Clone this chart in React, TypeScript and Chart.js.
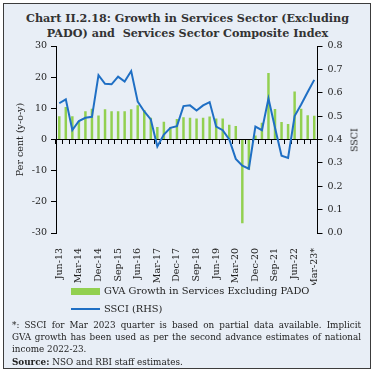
import React, { useEffect, useRef } from "react";
import { Chart, registerables } from "chart.js";

Chart.register(...registerables);

const categories = [
  "Jun-13", "Sep-13", "Dec-13", "Mar-14", "Jun-14", "Sep-14", "Dec-14", "Mar-15",
  "Jun-15", "Sep-15", "Dec-15", "Mar-16", "Jun-16", "Sep-16", "Dec-16", "Mar-17",
  "Jun-17", "Sep-17", "Dec-17", "Mar-18", "Jun-18", "Sep-18", "Dec-18", "Mar-19",
  "Jun-19", "Sep-19", "Dec-19", "Mar-20", "Jun-20", "Sep-20", "Dec-20", "Mar-21",
  "Jun-21", "Sep-21", "Dec-21", "Mar-22", "Jun-22", "Sep-22", "Dec-22", "Mar-23*",
];

const gvaGrowth = [
  7.5, 10.4, 7.5, 5.9, 9.1, 9.9, 7.7, 9.7,
  9.1, 9.1, 9.1, 9.7, 11.0, 9.5, 7.0, 4.0,
  5.7, 4.0, 6.6, 7.1, 7.0, 6.7, 7.0, 7.4,
  6.7, 6.7, 4.7, 4.3, -26.9, -9.7, 1.3, 5.4,
  21.3, 9.8, 5.6, 5.0, 15.4, 9.9, 7.8, 7.6,
];

const ssci = [
  0.555, 0.572, 0.44, 0.479, 0.493, 0.497, 0.675, 0.638,
  0.636, 0.669, 0.648, 0.693, 0.562, 0.52, 0.486, 0.37,
  0.421, 0.45, 0.457, 0.543, 0.546, 0.524, 0.546, 0.56,
  0.455, 0.44, 0.4, 0.317, 0.288, 0.275, 0.455, 0.44,
  0.575, 0.45, 0.331, 0.321, 0.5, 0.55, 0.603, 0.655,
];

const labelEvery = 3;
const leftMin = -30;
const leftMax = 30;
const leftStep = 10;
const rightMin = 0;
const rightMax = 0.8;
const rightStep = 0.1;

const GREEN = "#92d050";
const BLUE = "#1f6fc4";
const BG = "#e8eef6";
const FONT = "'DejaVu Serif', serif";

export default function App() {
  const canvasRef = useRef<HTMLCanvasElement | null>(null);

  useEffect(() => {
    const canvas = canvasRef.current;
    if (!canvas) return;
    Chart.defaults.font.family = FONT;
    Chart.defaults.font.size = 9.5;
    Chart.defaults.color = "#222";

    const chart = new Chart(canvas, {
      type: "bar",
      data: {
        labels: categories,
        datasets: [
          {
            type: "line",
            label: "SSCI (RHS)",
            data: ssci,
            xAxisID: "x",
            yAxisID: "y1",
            borderColor: BLUE,
            backgroundColor: BLUE,
            borderWidth: 2,
            pointRadius: 0,
            tension: 0,
            fill: false,
            order: 0,
          } as any,
          {
            type: "bar",
            label: "GVA Growth in Services Excluding PADO",
            data: gvaGrowth,
            xAxisID: "x",
            yAxisID: "y",
            backgroundColor: GREEN,
            categoryPercentage: 1,
            barPercentage: 0.38,
            order: 1,
          } as any,
        ],
      },
      options: {
        responsive: false,
        animation: false,
        devicePixelRatio: 1,
        layout: { padding: { top: 46, left: 0, right: 0, bottom: 0 } },
        plugins: {
          legend: { display: false },
          tooltip: { enabled: false },
          title: { display: false },
        },
        scales: {
          x: {
            type: "category",
            position: "bottom",
            offset: true,
            grid: { display: false },
            border: { display: false },
            ticks: {
              autoSkip: false,
              minRotation: 90,
              maxRotation: 90,
              padding: 7,
              callback: (_v: any, i: number) => (i % labelEvery === 0 ? categories[i] : ""),
            },
            afterFit: (s: any) => {
              s.height = 52;
            },
          },
          x0: {
            type: "category",
            axis: "x",
            position: { y: 0 },
            offset: true,
            grid: {
              display: true,
              drawOnChartArea: false,
              drawTicks: true,
              tickLength: 4,
              color: "#000",
              offset: true,
            },
            border: { display: true, color: "#000", width: 1 },
            ticks: { display: false },
          } as any,
          y: {
            type: "linear",
            position: "left",
            min: leftMin,
            max: leftMax,
            ticks: { stepSize: leftStep, padding: 4 },
            grid: { drawOnChartArea: false, drawTicks: true, tickLength: 5, color: "#000" },
            border: { display: true, color: "#000", width: 1 },
            title: {
              display: true,
              text: "Per cent (y-o-y)",
              padding: { top: 15, bottom: 0 },
            },
            afterFit: (s: any) => {
              s.width = 56;
            },
          },
          y1: {
            type: "linear",
            position: "right",
            min: rightMin,
            max: rightMax,
            ticks: {
              stepSize: rightStep,
              padding: 5,
              callback: (v: any) => Number(v).toFixed(1),
            },
            grid: { drawOnChartArea: false, drawTicks: true, tickLength: 5, color: "#000" },
            border: { display: true, color: "#000", width: 1 },
            afterFit: (s: any) => {
              s.width = 56.5;
            },
          },
        },
      } as any,
    });
    return () => chart.destroy();
  }, []);

  const textCol = "#222";

  return (
    <div style={{ position: "absolute", left: 0, top: 0, width: 374, height: 374, background: "#fff", overflow: "hidden" }}>
      <div
        style={{
          position: "absolute",
          left: 3,
          top: 3,
          width: 368,
          height: 366,
          boxSizing: "border-box",
          border: "1.5px solid #3c3c3c",
          background: BG,
        }}
      />
      <div
        style={{
          position: "absolute",
          left: 0,
          top: 11,
          width: 375,
          textAlign: "center",
          fontFamily: FONT,
          fontWeight: "bold",
          fontSize: 11.2,
          lineHeight: "15px",
          color: "#333",
          whiteSpace: "pre",
        }}
      >
        <div>Chart II.2.18: Growth in Services Sector (Excluding</div>
        <div>PADO) and  Services Sector Composite Index</div>
      </div>
      <canvas
        ref={canvasRef}
        width={374}
        height={285}
        style={{ position: "absolute", left: 0, top: 0, width: 374, height: 285 }}
      />
      <div
        style={{
          position: "absolute",
          left: 354,
          top: 140,
          transform: "translate(-50%, -50%) rotate(-90deg)",
          fontFamily: FONT,
          fontSize: 9.5,
          color: textCol,
          whiteSpace: "nowrap",
        }}
      >
        SSCI
      </div>
      <div style={{ position: "absolute", left: 71, top: 288, width: 29, height: 7, background: GREEN }} />
      <div
        style={{
          position: "absolute",
          left: 104,
          top: 284,
          fontFamily: FONT,
          fontSize: 9.9,
          lineHeight: "14px",
          color: textCol,
          whiteSpace: "nowrap",
        }}
      >
        GVA Growth in Services Excluding PADO
      </div>
      <div style={{ position: "absolute", left: 71, top: 308, width: 29, height: 2, background: BLUE }} />
      <div
        style={{
          position: "absolute",
          left: 104,
          top: 302,
          fontFamily: FONT,
          fontSize: 9.9,
          lineHeight: "14px",
          color: textCol,
          whiteSpace: "nowrap",
        }}
      >
        SSCI (RHS)
      </div>
      <div
        style={{
          position: "absolute",
          left: 12,
          top: 319,
          width: 349,
          fontFamily: FONT,
          fontSize: 8.8,
          lineHeight: "12.2px",
          color: textCol,
        }}
      >
        <div style={{ textAlign: "justify", textAlignLast: "justify", whiteSpace: "nowrap" as any }}>
          *: SSCI for Mar 2023 quarter is based on partial data available. Implicit
        </div>
        <div style={{ textAlign: "justify", textAlignLast: "justify" }}>
          GVA growth has been used as per the second advance estimates of national
        </div>
        <div>income 2022-23.</div>
        <div>
          <b>Source:</b> NSO and RBI staff estimates.
        </div>
      </div>
    </div>
  );
}
